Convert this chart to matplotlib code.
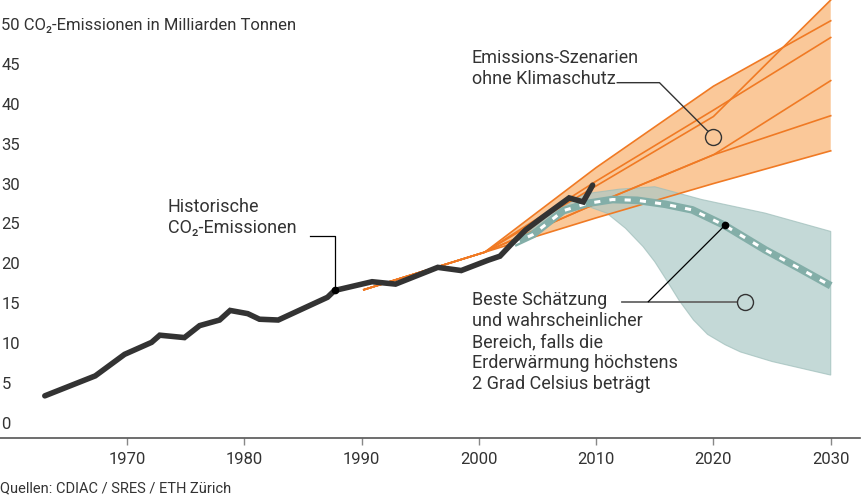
import numpy as np
import matplotlib
matplotlib.use("Agg")
import matplotlib.pyplot as plt

plt.rcParams['font.family'] = ['Roboto', 'DejaVu Sans']

# historical emissions (Gt CO2)
hist_years = [1963.0, 1967.3, 1969.8, 1972.1, 1972.8, 1974.9, 1976.2, 1977.9, 1978.8,
              1980.3, 1981.3, 1982.9, 1987.1, 1987.7, 1990.9, 1992.9, 1996.5, 1998.5,
              2000.8, 2001.8, 2002.7, 2004.0, 2005.5, 2007.7, 2008.9, 2009.7]
hist_vals = [3.4, 5.9, 8.6, 10.1, 11.0, 10.7, 12.2, 12.9, 14.1,
             13.7, 13.0, 12.9, 15.75, 16.6, 17.7, 17.4, 19.5, 19.1,
             20.4, 20.9, 22.3, 24.2, 25.85, 28.2, 27.7, 29.8]

# SRES scenarios
scen_years = [1990.2, 2000.5, 2010, 2020, 2030]
scen_1 = [16.7, 21.4, 29.7, 38.4, 53.0]
scen_2 = [16.7, 21.4, 32.0, 42.2, 50.4]
scen_3 = [16.7, 21.4, 30.3, 39.2, 48.3]
scen_4 = [16.7, 21.4, 27.5, 33.6, 42.9]
scen_5 = [16.7, 21.4, 27.5, 33.6, 38.5]
scen_6 = [16.7, 21.4, 25.7, 30.0, 34.1]

# scenario range
range_hi_years = [2000.5, 2010, 2020, 2026.2, 2030]
range_hi = [21.4, 32.0, 42.2, 47.3, 53.0]
range_lo_years = [2000.5, 2010, 2020, 2030]
range_lo = [21.4, 25.7, 30.0, 34.1]

# 2 degree pathway: best estimate and likely range
best_years = [2003.0, 2004.6, 2007.2, 2009.2, 2011.4, 2013.5, 2015.9, 2018.2,
              2020.9, 2024.4, 2027.3, 2030]
best_vals = [22.5, 23.6, 26.6, 27.5, 28.0, 27.9, 27.4, 26.7,
             24.8, 21.7, 19.4, 17.2]
band_hi_years = [2003.0, 2006.0, 2009.0, 2012.0, 2015.0, 2019.0, 2024.4, 2030]
band_hi = [22.5, 26.0, 28.7, 29.3, 29.6, 28.0, 26.3, 24.0]
band_lo_years = [2003.0, 2006.0, 2009.0, 2010.9, 2012.5, 2014.0, 2015.0, 2016.0,
                 2017.1, 2018.3, 2019.5, 2021.0, 2022.3, 2025.0, 2030]
band_lo = [22.5, 25.5, 27.3, 26.3, 24.4, 22.1, 20.2, 17.9,
           15.3, 12.9, 11.1, 9.8, 8.9, 7.7, 6.0]

xticks = [1970, 1980, 1990, 2000, 2010, 2020, 2030]
yticks = [0, 5, 10, 15, 20, 25, 30, 35, 40, 45, 50]

text_col = '#333333'
orange = '#f07a24'
orange_fill = '#fac899'
teal_fill = '#abc9c7'
teal_line = '#83aea8'

fig = plt.figure(figsize=(8.61, 4.96), dpi=100)
ax = fig.add_axes([0, 0, 1, 1])
ax.set_xlim(1959.18, 2032.58)
ax.set_ylim(-9.15, 53.0)

# scenario range fill
ax.fill(range_hi_years + range_lo_years[::-1], range_hi + range_lo[::-1],
        color=orange_fill, lw=0, zorder=1)

# 2 degree band
ax.fill(band_hi_years + band_lo_years[::-1], band_hi + band_lo[::-1],
        facecolor=teal_fill, edgecolor='#9dbdb9', lw=0.8, alpha=0.7, zorder=2)

for s in [scen_1, scen_2, scen_3, scen_4, scen_5, scen_6]:
    ax.plot(scen_years, s, color=orange, lw=1.2, zorder=3)

# best estimate
ax.plot(best_years, best_vals, color=teal_line, lw=5.5, solid_capstyle='butt', zorder=4)
ax.plot(best_years, best_vals, color='white', lw=2.2, dashes=(2.0, 3.0), zorder=5)

# historical
ax.plot(hist_years, hist_vals, color='#333333', lw=4, solid_joinstyle='miter',
        solid_capstyle='round', zorder=6)

# annotations
ax.text(1973.5, 25.7, "Historische\nCO\u2082-Emissionen", fontsize=13, color=text_col,
        va='center', ha='left', linespacing=1.22, zorder=7)
ax.plot([1985.6, 1987.75, 1987.75], [23.4, 23.4, 16.6], color='black', lw=0.9, zorder=7)
ax.plot(1987.75, 16.6, 'o', color='black', ms=4.5, zorder=8)

ax.text(1999.4, 44.4, "Emissions-Szenarien\nohne Klimaschutz", fontsize=13, color=text_col,
        va='center', ha='left', linespacing=1.22, zorder=7)
ax.plot([2011.8, 2015.4, 2019.5], [42.64, 42.64, 36.6], color='#333333', lw=1.0, zorder=7)
ax.plot(2019.99, 35.88, 'o', mfc='none', mec='#333333', mew=1.0, ms=11.5, zorder=8)

ax.text(1999.4, 10.15, "Beste Schätzung\nund wahrscheinlicher\nBereich, falls die\n"
        "Erderwärmung höchstens\n2 Grad Celsius beträgt", fontsize=13, color=text_col,
        va='center', ha='left', linespacing=1.22, zorder=7)
ax.plot([2012.18, 2022.0], [15.2, 15.2], color='#666666', lw=1.3, zorder=7)
ax.plot(2022.7, 15.2, 'o', mfc='none', mec='#333333', mew=1.0, ms=11.5, zorder=8)
ax.plot([2014.45, 2021.0], [15.2, 24.8], color='black', lw=0.9, zorder=7)
ax.plot(2021.0, 24.8, 'o', color='black', ms=4.5, zorder=8)

# axes styling
for side in ['top', 'right', 'left']:
    ax.spines[side].set_visible(False)
ax.spines['bottom'].set_position(('data', -1.84))
ax.spines['bottom'].set_color('#555555')
ax.spines['bottom'].set_linewidth(1.2)
ax.spines['bottom'].set_bounds(1959.18, 2032.5)

ax.set_xticks(xticks)
ax.set_xticklabels([str(x) for x in xticks])
ax.tick_params(axis='x', direction='out', length=5, width=1.0, color='#888888',
               labelsize=12, labelcolor=text_col, pad=5)

ylabels = [str(v) for v in yticks]
ylabels[-1] = "50 CO\u2082-Emissionen in Milliarden Tonnen"
ax.set_yticks(yticks)
ax.set_yticklabels(ylabels)
ax.tick_params(axis='y', length=0, pad=-1, labelsize=12, labelcolor=text_col)
for lab in ax.get_yticklabels():
    lab.set_horizontalalignment('left')

fig.text(0.0, 496 - 488, "Quellen: CDIAC / SRES / ETH Zürich", fontsize=10.5,
         color=text_col, ha='left', va='center', transform=None)

fig.savefig("out.png", dpi=100)
